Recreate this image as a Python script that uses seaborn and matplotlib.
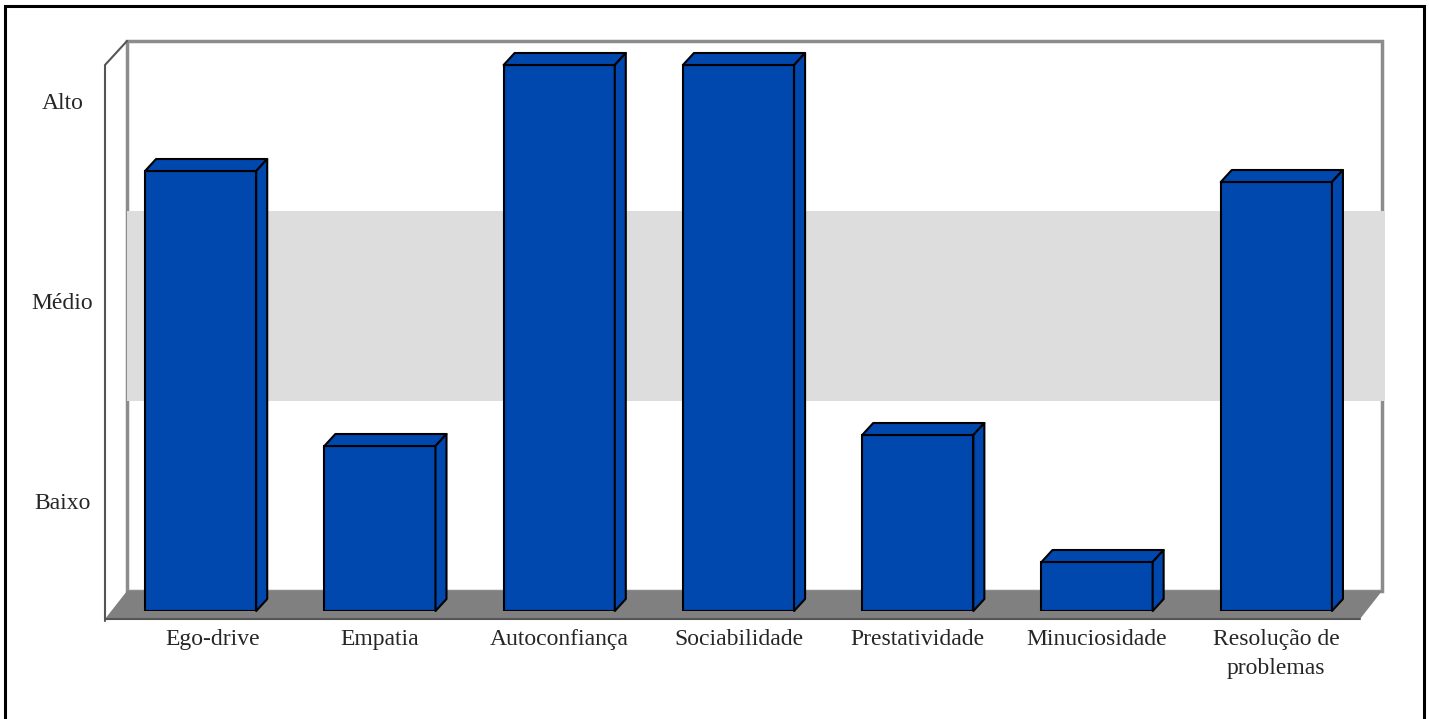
import numpy as np
import pandas as pd
import seaborn as sns
import matplotlib.pyplot as plt
from matplotlib.patches import Polygon, Rectangle
from matplotlib.transforms import ScaledTranslation

# data (levels: 1 = Baixo, 2 = Médio, 3 = Alto)
categorias = ['Ego-drive', 'Empatia', 'Autoconfiança', 'Sociabilidade',
              'Prestatividade', 'Minuciosidade', 'Resolução de\nproblemas']
niveis = [2.75, 1.375, 3.28, 3.28, 1.43, 0.795, 2.695]
nivel_labels = ['Baixo', 'Médio', 'Alto']
nivel_ticks = [1, 2, 3]
faixa_media = (1.5, 2.45)
piso = 0.55

sns.set_style('white')
plt.rcParams['font.family'] = ['Liberation Serif', 'DejaVu Serif']

DPI = 100
fig = plt.figure(figsize=(14.29, 7.19), dpi=DPI)
ax = fig.add_axes([111 / 1429, 1 - 611 / 719, 1255 / 1429, 550 / 719])
ax.set_zorder(3.5)

df = pd.DataFrame({'cat': categorias, 'alt': np.array(niveis) - piso})
azul = '#0047AE'
sns.barplot(data=df, x='cat', y='alt', color=azul, saturation=1, width=0.62,
            edgecolor='black', linewidth=1.5, bottom=piso, ax=ax, zorder=5)
ax.set_xlim(-0.5, len(categorias) - 0.5)
ax.set_ylim(piso, piso + 550 / 200)
ax.set_xlabel('')
ax.set_ylabel('')
for s in ax.spines.values():
    s.set_visible(False)
ax.patch.set_alpha(0)

ax.set_yticks(nivel_ticks)
ax.set_yticklabels(nivel_labels, fontsize=17)
ax.tick_params(axis='y', length=0, pad=35)
ax.tick_params(axis='x', length=0, pad=13, labelsize=17)
up = ScaledTranslation(0, 20 / DPI, fig.dpi_scale_trans)
for lab in ax.get_yticklabels():
    lab.set_ha('center')
    lab.set_transform(lab.get_transform() + up)
for lab in ax.get_xticklabels():
    lab.set_linespacing(1.48)
    lab.set_va('top')
# first label sits a little to the right in the original
xl0 = ax.get_xticklabels()[0]
xl0.set_transform(xl0.get_transform() + ScaledTranslation(12 / DPI, 0, fig.dpi_scale_trans))

fig.canvas.draw()
T = ax.transData


def px(x, y, dx=0, dy=0):
    X, Y = T.transform((x, y))
    return (X + dx, Y + dy)


x0, x1 = ax.get_xlim()
y0, y1 = ax.get_ylim()
back = (16, 20)   # bar plane -> back wall
front = (-6, -8)  # bar plane -> front edge
depth = (11, 12)  # bar depth

# back wall with middle band
fig.patches.append(Polygon([px(x0, y0, *back), px(x1, y0, *back), px(x1, y1, *back), px(x0, y1, *back)],
                           closed=True, facecolor='white', edgecolor='#8c8c8c', lw=2.5,
                           transform=None, zorder=1))
fig.patches.append(Polygon([px(x0, faixa_media[0], *back), px(x1, faixa_media[0], back[0] + 3, back[1]),
                            px(x1, faixa_media[1], back[0] + 3, back[1]), px(x0, faixa_media[1], *back)],
                           closed=True, facecolor='#dddddd', edgecolor='none',
                           transform=None, zorder=1.5))
# floor
fig.patches.append(Polygon([px(x0, y0, *front), px(x1, y0, *front), px(x1, y0, *back), px(x0, y0, *back)],
                           closed=True, facecolor='#808080', edgecolor='none',
                           transform=None, zorder=2))
# left wall edges
fig.lines.append(plt.Line2D([px(x0, y0, *front)[0], px(x0, y1, *front)[0], px(x0, y1, *back)[0]],
                            [px(x0, y0, *front)[1] - 2, px(x0, y1, *front)[1] + 4, px(x0, y1, *back)[1]],
                            color='#555555', lw=1.5, transform=None, zorder=3))
fig.lines.append(plt.Line2D([px(x0, y0, *front)[0], px(x1, y0, *front)[0]],
                            [px(x0, y0, *front)[1], px(x1, y0, *front)[1]],
                            color='#555555', lw=1.5, transform=None, zorder=3))

# 3D faces of bars
for p in ax.patches:
    bx, by = p.get_x(), p.get_y()
    bw, bh = p.get_width(), p.get_height()
    top = [px(bx, by + bh), px(bx + bw, by + bh), px(bx + bw, by + bh, *depth), px(bx, by + bh, *depth)]
    side = [px(bx + bw, by), px(bx + bw, by, *depth), px(bx + bw, by + bh, *depth), px(bx + bw, by + bh)]
    for poly in (top, side):
        fig.patches.append(Polygon(poly, closed=True, facecolor=azul, edgecolor='black',
                                   lw=1.5, joinstyle='round', transform=None, zorder=4))

# outer frame
fig.patches.append(Rectangle((5 / 1429, -0.01), 1419 / 1429, 1.01 - 6 / 719, transform=fig.transFigure,
                             fill=False, edgecolor='black', lw=2.2, zorder=10))

fig.savefig('out.png', dpi=DPI)
